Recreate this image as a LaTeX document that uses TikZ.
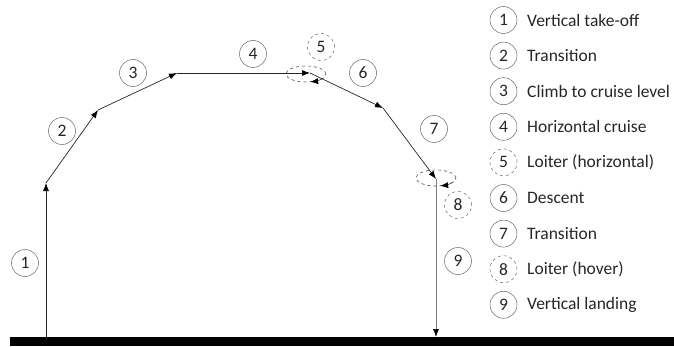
\documentclass[tikz,border=0pt]{standalone}
\usepackage{fontspec}
\setmainfont{Carlito}
\usetikzlibrary{arrows.meta}
\begin{document}
\begin{tikzpicture}[x=1pt,y=1pt,
  tip/.tip={Latex[length=8pt,width=6pt,color=black]},
  path/.style={draw=black!85, line width=0.7pt, -tip},
  num/.style={circle, draw=black!60, line width=0.5pt, minimum size=27pt, inner sep=0pt, font=\fontsize{17.5}{20}\selectfont, text=black!85},
  dnum/.style={num, dashed},
  legtext/.style={anchor=west, inner sep=3pt, font=\fontsize{17.5}{20}\selectfont, text=black!85},
  loiter/.style={draw=black!70, dashed, line width=0.6pt}]
\useasboundingbox (0,0) rectangle (674,346);
% ground
\fill[black] (10,0) rectangle (674,9);
% waypoints
\coordinate (A) at (46,9);
\coordinate (B) at (46,163);
\coordinate (C) at (98,236);
\coordinate (D) at (177,273);
\coordinate (E) at (310,273);
\coordinate (F) at (383,238);
\coordinate (G) at (436,167);
\coordinate (H) at (436,9);
\coordinate (L5) at (306,272);
\coordinate (L8) at (436,168);
% loiter ellipses
\draw[loiter] (L5) ellipse[x radius=20, y radius=8];
\draw[loiter] (L8) ellipse[x radius=20, y radius=8];
\draw[draw=black!70, line width=0.6pt, -tip] ([shift={(-30:20 and 8)}]L5) arc[start angle=-30, end angle=-78, x radius=20, y radius=8];
\draw[draw=black!70, line width=0.6pt, -tip] ([shift={(-30:20 and 8)}]L8) arc[start angle=-30, end angle=-78, x radius=20, y radius=8];
% flight path
\draw[path] (A) -- (B);
\draw[path] (B) -- (C);
\draw[path] (C) -- (D);
\draw[path] (D) -- (E);
\draw[path] (E) -- (F);
\draw[path] (F) -- (G);
\draw[path, draw=black!50] (G) -- (H);
% phase labels
\node[num] (n1) at (25,83) {1};
\node[num] (n2) at (62,215) {2};
\node[num] (n3) at (133,273) {3};
\node[num] (n4) at (253,292) {4};
\node[dnum] (n5) at (321,299) {5};
\node[num] (n6) at (363,273) {6};
\node[num] (n7) at (434,217) {7};
\node[dnum] (n8) at (458,141) {8};
\node[num] (n9) at (458,85) {9};
% legend
\foreach \i/\t/\s in {1/Vertical take-off/num, 2/Transition/num, 3/Climb to cruise level/num, 4/Horizontal cruise/num, 5/Loiter (horizontal)/dnum, 6/Descent/num, 7/Transition/num, 8/Loiter (hover)/dnum, 9/Vertical landing/num}{
  \node[\s] (k\i) at (503.5,{326-35.6*(\i-1)}) {\i};
  \node[legtext] (t\i) at (524,{326-35.6*(\i-1)}) {\t};
}
\end{tikzpicture}
\end{document}
